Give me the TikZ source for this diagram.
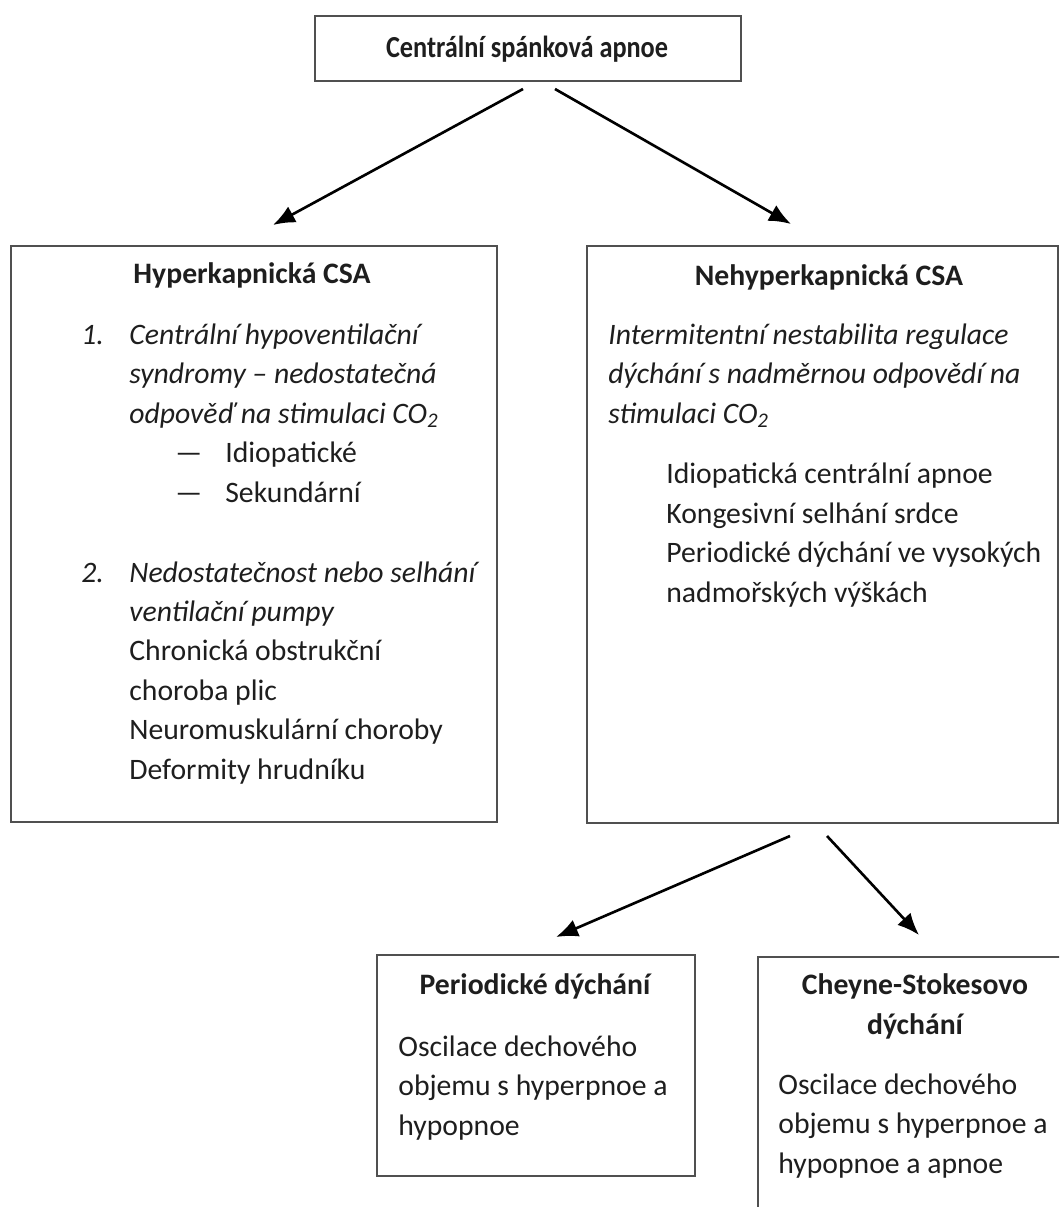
\documentclass[tikz,border=0pt]{standalone}
\usepackage{fontspec}
\setmainfont{Carlito}
\newfontfamily\csacond[FakeStretch=0.86]{Carlito}
\usetikzlibrary{arrows.meta}
\definecolor{boxline}{HTML}{505050}
\definecolor{ink}{HTML}{1E1E1E}
\tikzset{
  csa_box/.style = {rectangle, draw=boxline, line width=1.1pt,
    inner sep=0pt, anchor=north west},% ramecek
  csa_head/.style = {font=\fontsize{16.9pt}{22.4pt}\selectfont\bfseries,
    text=ink, inner sep=0pt, anchor=base, align=center},% nadpis ramecku
  csa_text/.style = {font=\fontsize{16.9pt}{22.4pt}\selectfont,
    text=ink, inner sep=0pt, anchor=base west, align=left},% obycejny text
  csa_it/.style = {csa_text,
    font=\fontsize{16.9pt}{22.4pt}\selectfont\itshape},% kurziva
  csa_arrow/.style = {->, line width=1.5pt, black}% sipka
}

\begin{document}
\begin{tikzpicture}[x=0.02cm, y=-0.02cm,
  >={Latex[length=0.44cm,width=0.36cm]}]
\useasboundingbox (0,0) rectangle (1059,1207);
\clip (0,0) rectangle (1059,1207);

% ramecky
\node [csa_box, minimum width=8.52cm, minimum height=1.3cm] (root) at (314,15) {};
\node [csa_box, minimum width=9.72cm, minimum height=11.52cm] (hyper) at (10,245) {};
\node [csa_box, minimum width=9.42cm, minimum height=11.54cm] (nehyper) at (586,245) {};
\node [csa_box, minimum width=6.36cm, minimum height=4.42cm] (periodic) at (376,954) {};
\node [csa_box, minimum width=6.4cm, minimum height=6cm] (cheyne) at (757,956) {};

% koren (u viceradkovych uzlu je base na poslednim radku)
\node [csa_head, font=\csacond\fontsize{17.4pt}{22.4pt}\selectfont\bfseries]
  (root_t) at (527,57) {Centrální spánková apnoe};

% hyperkapnicka CSA
\node [csa_head] (hyper_h) at (252,283) {Hyperkapnická CSA};
\node [csa_it] (hyper_n1) at (81,344) {1.};
\node [csa_it] (hyper_i1) at (129,423) {Centrální hypoventilační\\
  syndromy – nedostatečná\\ odpověď na stimulaci CO\textsubscript{2}};
\node [csa_text] (hyper_d) at (175,502) {—\\—};
\node [csa_text] (hyper_s) at (225,502) {Idiopatické\\ Sekundární};
\node [csa_it] (hyper_n2) at (81,582) {2.};
\node [csa_text] (hyper_i2) at (129,779) {\itshape Nedostatečnost nebo selhání\\
  \itshape ventilační pumpy\\ Chronická obstrukční\\ choroba plic\\
  Neuromuskulární choroby\\ Deformity hrudníku};

% nehyperkapnicka CSA
\node [csa_head] (neh_h) at (829,285) {Nehyperkapnická CSA};
\node [csa_it] (neh_i) at (608,423) {Intermitentní nestabilita regulace\\
  dýchání s nadměrnou odpovědí na\\ stimulaci CO\textsubscript{2}};
\node [csa_text] (neh_t) at (666,602) {Idiopatická centrální apnoe\\
  Kongesivní selhání srdce\\ Periodické dýchání ve vysokých\\
  nadmořských výškách};

% typy dychani
\node [csa_head] (per_h) at (535,994) {Periodické dýchání};
\node [csa_text] (per_t) at (398,1135) {Oscilace dechového\\
  objemu s hyperpnoe a\\ hypopnoe};
\node [csa_head] (chs_h) at (915,1034) {Cheyne-Stokesovo\\ dýchání};
\node [csa_text] (chs_t) at (778,1173) {Oscilace dechového\\
  objemu s hyperpnoe a\\ hypopnoe a apnoe};

% konce sipek
\coordinate (root_out_l) at (523,89);
\coordinate (root_out_r) at (555,89);
\coordinate (hyper_in) at (273,225);
\coordinate (nehyper_in) at (791,224);
\coordinate (neh_out_l) at (790,836);
\coordinate (neh_out_r) at (827,836);
\coordinate (periodic_in) at (556,937);
\coordinate (cheyne_in) at (919,935);

\draw [csa_arrow] (root_out_l) -- (hyper_in);
\draw [csa_arrow] (root_out_r) -- (nehyper_in);
\draw [csa_arrow] (neh_out_l) -- (periodic_in);
\draw [csa_arrow] (neh_out_r) -- (cheyne_in);
\end{tikzpicture}
\end{document}
